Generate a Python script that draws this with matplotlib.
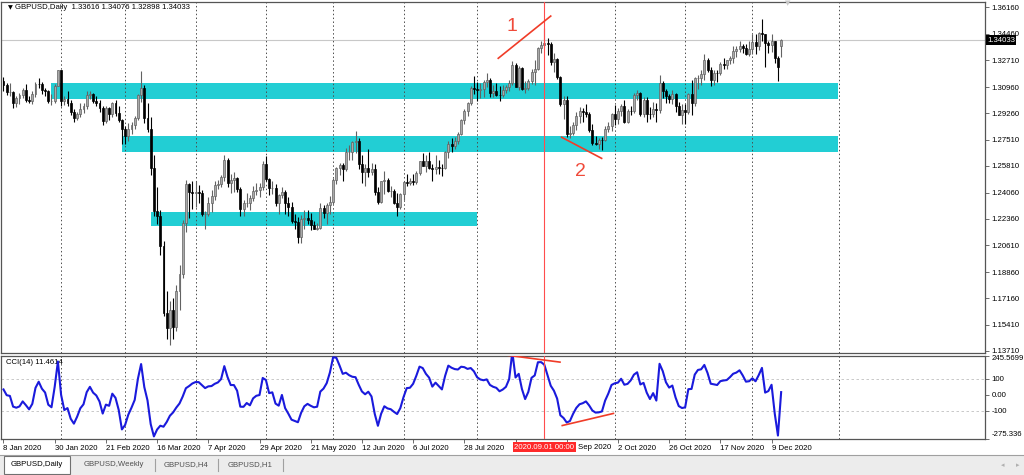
import numpy as np
import matplotlib.pyplot as plt
from matplotlib.patches import Rectangle
from matplotlib.lines import Line2D
from matplotlib.transforms import blended_transform_factory as blend

plt.rcParams['font.family'] = ['Liberation Sans', 'DejaVu Sans']

# GBPUSD daily bars, bar 0 = 8 Jan 2020, last bar = 14 Dec 2020
closes = [
    # Jan
    1.3110, 1.3063, 1.3064, 1.2995, 1.3023, 1.3042, 1.3076, 1.3012, 1.3004, 1.3048,
    1.3119, 1.3117, 1.3076, 1.3070, 1.3003, 1.3006, 1.3105, 1.3206,
    # Feb
    1.3003, 1.3021, 1.2995, 1.2936, 1.2896, 1.2919, 1.2952, 1.2973, 1.3045, 1.3048,
    1.3002, 1.2994, 1.2962, 1.2876, 1.2960, 1.2920, 1.2993, 1.2929, 1.2881, 1.2823,
    # Mar
    1.2775, 1.2820, 1.2851, 1.2897, 1.3042, 1.3087, 1.2893, 1.2825, 1.2565, 1.2285,
    1.2256, 1.2058, 1.1620, 1.1520, 1.1640, 1.1525, 1.1760, 1.1877, 1.2207, 1.2461,
    1.2411, 1.2404,
    # Apr
    1.2410, 1.2406, 1.2264, 1.2268, 1.2340, 1.2382, 1.2459, 1.2461, 1.2509, 1.2620,
    1.2471, 1.2488, 1.2503, 1.2430, 1.2301, 1.2336, 1.2337, 1.2370, 1.2417, 1.2421,
    1.2443, 1.2595,
    # May
    1.2492, 1.2433, 1.2437, 1.2337, 1.2389, 1.2407, 1.2337, 1.2312, 1.2223, 1.2215,
    1.2114, 1.2231, 1.2237, 1.2224, 1.2196, 1.2167, 1.2174, 1.2304, 1.2270, 1.2323,
    1.2342,
    # Jun
    1.2487, 1.2566, 1.2584, 1.2562, 1.2669, 1.2672, 1.2734, 1.2741, 1.2593, 1.2544,
    1.2570, 1.2539, 1.2563, 1.2411, 1.2346, 1.2479, 1.2487, 1.2417, 1.2417, 1.2336,
    1.2314, 1.2396,
    # Jul
    1.2475, 1.2471, 1.2480, 1.2476, 1.2532, 1.2610, 1.2581, 1.2614, 1.2564, 1.2559,
    1.2573, 1.2568, 1.2565, 1.2673, 1.2726, 1.2711, 1.2743, 1.2791, 1.2881, 1.2942,
    1.2993, 1.3092, 1.3085,
    # Aug
    1.3076, 1.3081, 1.3130, 1.3145, 1.3055, 1.3070, 1.3046, 1.3044, 1.3076, 1.3095,
    1.3123, 1.3241, 1.3095, 1.3218, 1.3085, 1.3089, 1.3137, 1.3197, 1.3216, 1.3349,
    1.3371,
    # Sep
    1.3386, 1.3378, 1.3260, 1.3278, 1.3163, 1.2983, 1.3012, 1.2787, 1.2798, 1.2847,
    1.2907, 1.2942, 1.2931, 1.2917, 1.2817, 1.2733, 1.2727, 1.2750, 1.2749, 1.2823,
    1.2843, 1.2919,
    # Oct
    1.2885, 1.2940, 1.2970, 1.2870, 1.2941, 1.2939, 1.3045, 1.3059, 1.2921, 1.3014,
    1.2921, 1.2917, 1.2954, 1.2945, 1.3121, 1.3067, 1.3039, 1.3019, 1.3049, 1.2971,
    1.2915, 1.2944,
    # Nov
    1.2934, 1.3050, 1.2993, 1.3152, 1.3153, 1.3184, 1.3275, 1.3207, 1.3143, 1.3190,
    1.3186, 1.3247, 1.3237, 1.3274, 1.3287, 1.3329, 1.3346, 1.3363, 1.3354, 1.3315,
    1.3342,
    # Dec
    1.3388, 1.3363, 1.3452, 1.3441, 1.3383, 1.3369, 1.3399, 1.3285, 1.3225, 1.34033,
]
highs = [
    1.3160, 1.3120, 1.3120, 1.3068, 1.3040, 1.3060, 1.3090, 1.3118, 1.3040, 1.3070,
    1.3130, 1.3153, 1.3130, 1.3090, 1.3080, 1.3050, 1.3115, 1.3210,
    1.3210, 1.3040, 1.3070, 1.3010, 1.2950, 1.2935, 1.2990, 1.2990, 1.3070, 1.3070,
    1.3060, 1.3040, 1.3010, 1.2975, 1.2975, 1.2965, 1.3000, 1.3010, 1.2975, 1.2885,
    1.2840, 1.2860, 1.2870, 1.2910, 1.3050, 1.3200, 1.3110, 1.2990, 1.2900, 1.2650,
    1.2440, 1.2290, 1.2090, 1.1760, 1.1700, 1.1720, 1.1800, 1.1930, 1.2230, 1.2490,
    1.2470, 1.2480,
    1.2485, 1.2455, 1.2420, 1.2285, 1.2380, 1.2420, 1.2485, 1.2490, 1.2520, 1.2650,
    1.2630, 1.2530, 1.2540, 1.2510, 1.2440, 1.2360, 1.2405, 1.2390, 1.2450, 1.2470,
    1.2470, 1.2615,
    1.2645, 1.2500, 1.2480, 1.2460, 1.2400, 1.2440, 1.2420, 1.2375, 1.2345, 1.2265,
    1.2245, 1.2260, 1.2295, 1.2295, 1.2270, 1.2220, 1.2210, 1.2340, 1.2325, 1.2340,
    1.2385,
    1.2500, 1.2575, 1.2600, 1.2600, 1.2695, 1.2715, 1.2745, 1.2810, 1.2760, 1.2650,
    1.2590, 1.2690, 1.2600, 1.2590, 1.2445, 1.2485, 1.2545, 1.2500, 1.2450, 1.2430,
    1.2405, 1.2405,
    1.2480, 1.2530, 1.2500, 1.2525, 1.2550, 1.2615, 1.2665, 1.2650, 1.2670, 1.2590,
    1.2655, 1.2620, 1.2595, 1.2680, 1.2745, 1.2760, 1.2770, 1.2805, 1.2885, 1.2950,
    1.3000, 1.3105, 1.3170,
    1.3130, 1.3125, 1.3140, 1.3185, 1.3155, 1.3110, 1.3125, 1.3100, 1.3110, 1.3110,
    1.3140, 1.3265, 1.3255, 1.3235, 1.3225, 1.3135, 1.3150, 1.3215, 1.3275, 1.3355,
    1.3400,
    1.3482, 1.3415, 1.3390, 1.3320, 1.3285, 1.3170, 1.3035, 1.3035, 1.2840, 1.2870,
    1.2930, 1.2965, 1.2960, 1.2985, 1.2930, 1.2855, 1.2775, 1.2765, 1.2770, 1.2840,
    1.2865, 1.2925,
    1.2980, 1.2960, 1.2985, 1.3010, 1.2955, 1.2975, 1.3060, 1.3080, 1.3065, 1.3030,
    1.3030, 1.2965, 1.3000, 1.2990, 1.3175, 1.3135, 1.3085, 1.3050, 1.3075, 1.3055,
    1.3000, 1.2985,
    1.2985, 1.3060, 1.3140, 1.3160, 1.3175, 1.3210, 1.3315, 1.3285, 1.3230, 1.3205,
    1.3210, 1.3260, 1.3285, 1.3275, 1.3300, 1.3365, 1.3365, 1.3395, 1.3380, 1.3375,
    1.3400,
    1.3440, 1.3440, 1.3455, 1.3540, 1.3445, 1.3400, 1.3445, 1.3400, 1.3300, 1.34076,
]
lows = [
    1.3068, 1.3043, 1.3035, 1.2960, 1.2967, 1.2985, 1.3025, 1.3000, 1.2990, 1.2985,
    1.3030, 1.3090, 1.3050, 1.3035, 1.2990, 1.2980, 1.2990, 1.3100,
    1.2975, 1.2980, 1.2970, 1.2915, 1.2870, 1.2880, 1.2900, 1.2925, 1.2950, 1.3020,
    1.2990, 1.2975, 1.2930, 1.2850, 1.2862, 1.2882, 1.2900, 1.2910, 1.2870, 1.2725,
    1.2725, 1.2745, 1.2790, 1.2820, 1.2880, 1.3000, 1.2860, 1.2800, 1.2520, 1.2255,
    1.2200, 1.2000, 1.1600, 1.1450, 1.1409, 1.1450, 1.1500, 1.1640, 1.1850, 1.2150,
    1.2240, 1.2300,
    1.2310, 1.2340, 1.2255, 1.2165, 1.2250, 1.2280, 1.2360, 1.2430, 1.2440, 1.2480,
    1.2440, 1.2405, 1.2410, 1.2410, 1.2250, 1.2250, 1.2310, 1.2290, 1.2350, 1.2390,
    1.2380, 1.2420,
    1.2480, 1.2390, 1.2400, 1.2320, 1.2265, 1.2370, 1.2265, 1.2250, 1.2210, 1.2165,
    1.2075, 1.2080, 1.2165, 1.2200, 1.2160, 1.2165, 1.2160, 1.2165, 1.2240, 1.2200,
    1.2265,
    1.2330, 1.2460, 1.2520, 1.2485, 1.2545, 1.2620, 1.2620, 1.2665, 1.2560, 1.2470,
    1.2450, 1.2510, 1.2520, 1.2390, 1.2330, 1.2340, 1.2395, 1.2410, 1.2375, 1.2330,
    1.2250, 1.2300,
    1.2355, 1.2450, 1.2455, 1.2455, 1.2460, 1.2520, 1.2580, 1.2540, 1.2560, 1.2480,
    1.2530, 1.2525, 1.2515, 1.2560, 1.2635, 1.2670, 1.2690, 1.2725, 1.2780, 1.2855,
    1.2905, 1.2980, 1.3050,
    1.3005, 1.3025, 1.3030, 1.3095, 1.3030, 1.3030, 1.3040, 1.3005, 1.3030, 1.3060,
    1.3070, 1.3110, 1.3095, 1.3080, 1.3075, 1.3060, 1.3075, 1.3115, 1.3110, 1.3205,
    1.3320,
    1.3355, 1.3305, 1.3240, 1.3195, 1.3150, 1.2975, 1.2885, 1.2770, 1.2760, 1.2780,
    1.2815, 1.2860, 1.2865, 1.2900, 1.2800, 1.2715, 1.2720, 1.2690, 1.2685, 1.2745,
    1.2800, 1.2810,
    1.2845, 1.2855, 1.2905, 1.2860, 1.2860, 1.2915, 1.2925, 1.3010, 1.2910, 1.2900,
    1.2865, 1.2885, 1.2900, 1.2865, 1.2925, 1.3025, 1.2990, 1.2990, 1.2985, 1.2935,
    1.2915, 1.2855,
    1.2855, 1.2920, 1.2915, 1.2975, 1.3085, 1.3110, 1.3140, 1.3195, 1.3105, 1.3110,
    1.3130, 1.3175, 1.3215, 1.3215, 1.3245, 1.3255, 1.3290, 1.3325, 1.3320, 1.3305,
    1.3300,
    1.3315, 1.3315, 1.3340, 1.3400, 1.3225, 1.3320, 1.3325, 1.3250, 1.3134, 1.32898,
]
first_open = 1.3135
last_open = 1.33616   # Monday 14 Dec opened with a gap

# the 13 bars before 8 Jan, used only to start CCI(14)
pre_highs = [1.3145, 1.3110, 1.3060, 1.3010, 1.2980, 1.3025, 1.3120, 1.3145, 1.3285,
             1.3265, 1.3155, 1.3200, 1.3215]
pre_lows = [1.3065, 1.3000, 1.2990, 1.2905, 1.2925, 1.2935, 1.2995, 1.3060, 1.3105,
            1.3125, 1.3045, 1.3070, 1.3100]
pre_closes = [1.3075, 1.3030, 1.3000, 1.2945, 1.2950, 1.3000, 1.3075, 1.3115, 1.3255,
              1.3150, 1.3080, 1.3190, 1.3135]

price_ticks = [1.36160, 1.34460, 1.32710, 1.30960, 1.29260, 1.27510, 1.25810,
               1.24060, 1.22360, 1.20610, 1.18860, 1.17160, 1.15410, 1.13710]
cci_ticks = [245.5699, 100, 0, -100, -275.336]
cci_tick_labels = ['245.5699', '100', '0.00', '-100', '-275.336']
label_bars = list(range(0, 241, 16))
# the labels of bars 160 and 176 sit under the red date box, only "Sep 2020" peeks out
date_labels = ['8 Jan 2020', '30 Jan 2020', '21 Feb 2020', '16 Mar 2020', '7 Apr 2020',
               '29 Apr 2020', '21 May 2020', '12 Jun 2020', '6 Jul 2020', '28 Jul 2020',
               '', '', '2 Oct 2020', '26 Oct 2020', '17 Nov 2020', '9 Dec 2020']
peek_label = 'Sep 2020'
month_bars = [18, 38, 60, 82, 103, 125, 148, 169, 191, 213, 234, 261]
marker_bar = 169
marker_label = '2020.09.01 00:00'
bid = 1.34033

# drawn objects (bar index / price)
zone_left = [14.8, 36.9, 46.0]
zone_right = [260.8, 260.8, 148.0]
zone_low = [1.3016, 1.2673, 1.2190]
zone_high = [1.3121, 1.2776, 1.2277]
trend_main = [((154.6, 171.0), (1.3284, 1.3560)), ((174.4, 186.9), (1.2768, 1.2630))]
trend_cci = [((151.8, 173.9), (262, 204)), ((174.6, 190.6), (-194, -118))]
notes = [('1', 158.8, 1.3491), ('2', 180.2, 1.2541)]
tab_names = ['GBPUSD,Daily', 'GBPUSD,Weekly', 'GBPUSD,H4', 'GBPUSD,H1']

c = np.array(closes)
h = np.array(highs)
l = np.array(lows)
o = np.r_[first_open, c[:-1]]   # fx daily bars open at the previous close
o[-1] = last_open
x = np.arange(len(c))

# CCI(14)
H = np.r_[pre_highs, h]
L = np.r_[pre_lows, l]
C = np.r_[pre_closes, c]
tp = (H + L + C) / 3
cci = []
for i in range(len(pre_closes), len(tp)):
    w = tp[i - 13:i + 1]
    m = w.mean()
    cci.append((tp[i] - m) / (0.015 * np.abs(w - m).mean()))

W, HP = 1024, 475
fig = plt.figure(figsize=(W / 100, HP / 100), dpi=100)


def box(left, top, right, bottom):
    return [left / W, 1 - bottom / HP, (right - left) / W, (bottom - top) / HP]


ax = fig.add_axes(box(1, 2, 985, 353))
axc = fig.add_axes(box(1, 355.5, 985, 438.5))
frame = '#555555'
for a in (ax, axc):
    a.set_xlim(-0.78, 306.7)
    for s in a.spines.values():
        s.set_color(frame)
        s.set_linewidth(0.9)
    for m in month_bars:
        a.axvline(m, color='#4d4d4d', lw=0.7, ls=(0, (1.5, 2.5)), zorder=2)
    a.axvline(marker_bar, color='#ff4d4d', lw=0.8, zorder=6)
    a.yaxis.tick_right()
    a.tick_params(axis='y', length=3, width=0.6, color=frame, labelsize=5.6, pad=1.5)

# price panel
ax.set_ylim(1.13578, 1.36519)
ax.set_xticks([])
ax.set_yticks(price_ticks, [f'{v:.5f}' for v in price_ticks])

for x0, x1, y0, y1 in zip(zone_left, zone_right, zone_low, zone_high):
    ax.add_patch(Rectangle((x0, y0), x1 - x0, y1 - y0, facecolor='#22ced4',
                           edgecolor='none', zorder=1))

ax.axhline(bid, color='#c8c8c8', lw=0.8, zorder=1.5)

up = c >= o
dn = ~up
ax.vlines(x[up], l[up], h[up], color='#626262', lw=0.8, zorder=3)
ax.vlines(x[dn], l[dn], h[dn], color='black', lw=0.8, zorder=3)
ax.bar(x[up], c[up] - o[up], bottom=o[up], width=0.62, color='#a9a9a9',
       edgecolor='#626262', linewidth=0.5, zorder=4)
ax.bar(x[dn], o[dn] - c[dn], bottom=c[dn], width=0.62, color='black',
       edgecolor='black', linewidth=0.5, zorder=4)

for xs, ys in trend_main:
    ax.plot(xs, ys, color='#f03c28', lw=1.2, zorder=7)
for txt, bx, py in notes:
    ax.text(bx, py, txt, color='#f04a3a', fontsize=14, ha='center', va='center', zorder=7)

ax.text(0.0075, 0.983, '\u25bc', transform=ax.transAxes, fontsize=4.5,
        va='center', ha='left', family=['DejaVu Sans'])
ax.text(0.0142, 0.983, 'GBPUSD,Daily  1.33616 1.34076 1.32898 1.34033',
        transform=ax.transAxes, fontsize=5.6, va='center', ha='left')
ax.text(0.799, 0.996, '\u25bc', transform=ax.transAxes, fontsize=5, color='#c8c8c8',
        va='center', ha='center', family=['DejaVu Sans'])
ax.text(1.002, bid, '1.34033', transform=blend(ax.transAxes, ax.transData),
        fontsize=5.6, color='white', va='center', ha='left', zorder=10,
        bbox=dict(facecolor='black', edgecolor='none', pad=0.8))

# CCI panel
axc.set_ylim(-275.336, 245.5699)
axc.set_yticks(cci_ticks, cci_tick_labels)
ylabs = axc.get_yticklabels()
ylabs[0].set_va('top')
ylabs[-1].set_va('bottom')
for lev in (100, -100):
    axc.axhline(lev, color='#c0c0c0', lw=0.6, ls=(0, (3, 3)), zorder=1)
axc.plot(x, cci, color='#1a1adc', lw=1.5, zorder=4)
for xs, ys in trend_cci:
    axc.plot(xs, ys, color='#f03c28', lw=1.2, zorder=7)
axc.text(0.005, 0.92, 'CCI(14) 11.4614', transform=axc.transAxes, fontsize=5.6,
         va='center', ha='left')
axc.set_xticks(label_bars, date_labels)
axc.tick_params(axis='x', length=3, width=0.6, color=frame, labelsize=5.6, pad=2)
for lab in axc.get_xticklabels():
    lab.set_ha('left')
xfix = blend(axc.transData, axc.transAxes)
axc.text(marker_bar, -0.105, marker_label, transform=xfix,
         ha='center', va='center', color='white', fontsize=5.6, zorder=10, clip_on=False,
         bbox=dict(facecolor='#ff2a2a', edgecolor='none', pad=1.2))
axc.text(179.6, -0.105, peek_label, transform=xfix, ha='left', va='center',
         fontsize=5.6, clip_on=False)

# tab strip at the bottom
fig.add_artist(Rectangle((0, 0), 1, 20 / HP, transform=fig.transFigure,
                         facecolor='#ececec', edgecolor='none'))
fig.add_artist(Line2D([0, 1], [20 / HP, 20 / HP], transform=fig.transFigure,
                      color='#a0a0a0', lw=0.8))
fig.add_artist(Rectangle((4 / W, 1 / HP), 66 / W, 18 / HP, transform=fig.transFigure,
                         facecolor='white', edgecolor='#707070', lw=0.8))
for name, cx in zip(tab_names, [37, 114, 186, 250]):
    fig.text(cx / W, 10 / HP, name, fontsize=5.6, ha='center', va='center',
             color='black' if name.endswith('Daily') else '#505050')
for sx in [155, 218, 283]:
    fig.add_artist(Line2D([sx / W, sx / W], [4 / HP, 16 / HP], transform=fig.transFigure,
                          color='#a0a0a0', lw=0.8))
for ch, cx in [('\u25c2', 1003), ('\u25b8', 1018)]:
    fig.text(cx / W, 10 / HP, ch, fontsize=5, ha='center', va='center', color='#b0b0b0',
             family=['DejaVu Sans'])

fig.savefig('out.png', dpi=100)
